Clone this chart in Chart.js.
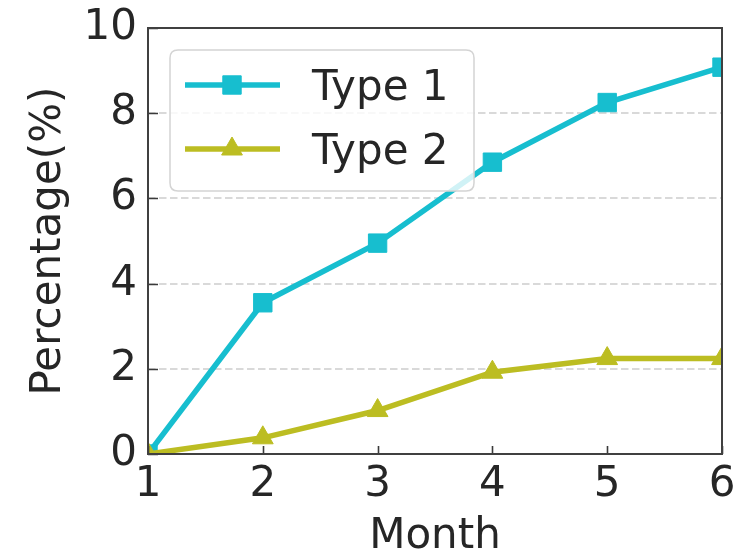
<!DOCTYPE html>
<html>
<head>
<meta charset="utf-8">
<script src="https://cdn.jsdelivr.net/npm/chart.js@4/dist/chart.umd.min.js"></script>
<style>
  html, body { margin: 0; padding: 0; background: #fff; }
  #wrap { width: 754px; height: 552px; }
</style>
</head>
<body>
<div id="wrap"><canvas id="c" width="754" height="552"></canvas></div>
<script>
// Monthly percentages for the two types
const months = [1, 2, 3, 4, 5, 6];
const type1 = [0, 3.55, 4.95, 6.85, 8.25, 9.08];
const type2 = [0, 0.38, 1.02, 1.92, 2.24, 2.24];
const yTicks = [0, 2, 4, 6, 8, 10];
const seriesNames = ['Type 1', 'Type 2'];
const seriesColors = ['#17becf', '#bcbd22'];
const seriesMarkers = ['rect', 'triangle'];
const xTitle = 'Month';
const yTitle = 'Percentage(%)';

const FONT = "'DejaVu Sans', sans-serif";
const TEXT = '#262626';

function toPoints(vals) {
  return months.map((m, i) => ({ x: m, y: vals[i] }));
}

const markerRadius = { rect: 13, triangle: 12 };

// Frame, inward ticks and an in-plot legend box
const overlay = {
  id: 'overlay',
  afterDatasetsDraw(chart) {
    const { ctx, chartArea: a, scales: { x, y } } = chart;
    ctx.save();

    // inward tick marks
    ctx.strokeStyle = '#3a3a3a';
    ctx.lineWidth = 1.6;
    ctx.beginPath();
    months.forEach(m => {
      const px = Math.round(x.getPixelForValue(m)) + 0.5;
      ctx.moveTo(px, a.bottom);
      ctx.lineTo(px, a.bottom - 8);
    });
    yTicks.forEach(v => {
      const py = Math.round(y.getPixelForValue(v)) + 0.5;
      ctx.moveTo(a.left, py);
      ctx.lineTo(a.left + 10, py);
    });
    ctx.stroke();

    // axes frame
    ctx.strokeStyle = '#404040';
    ctx.lineWidth = 2;
    ctx.strokeRect(a.left, a.top, a.right - a.left, a.bottom - a.top);

    // legend
    const bx = a.left + 22, by = a.top + 22, bw = 304, bh = 141, r = 8;
    ctx.beginPath();
    ctx.moveTo(bx + r, by);
    ctx.lineTo(bx + bw - r, by);
    ctx.quadraticCurveTo(bx + bw, by, bx + bw, by + r);
    ctx.lineTo(bx + bw, by + bh - r);
    ctx.quadraticCurveTo(bx + bw, by + bh, bx + bw - r, by + bh);
    ctx.lineTo(bx + r, by + bh);
    ctx.quadraticCurveTo(bx, by + bh, bx, by + bh - r);
    ctx.lineTo(bx, by + r);
    ctx.quadraticCurveTo(bx, by, bx + r, by);
    ctx.closePath();
    ctx.fillStyle = 'rgba(255,255,255,0.8)';
    ctx.fill();
    ctx.strokeStyle = '#d4d4d4';
    ctx.lineWidth = 1.5;
    ctx.stroke();

    const rows = [by + 35, by + 99];
    seriesNames.forEach((name, i) => {
      const cy = rows[i];
      ctx.strokeStyle = seriesColors[i];
      ctx.lineWidth = 5.5;
      ctx.beginPath();
      ctx.moveTo(bx + 15, cy);
      ctx.lineTo(bx + 110, cy);
      ctx.stroke();
      ctx.fillStyle = seriesColors[i];
      ctx.lineWidth = 1;
      Chart.helpers.drawPoint(ctx, {
        pointStyle: seriesMarkers[i],
        radius: markerRadius[seriesMarkers[i]],
        borderWidth: 1,
        rotation: 0
      }, bx + 62, cy);
      ctx.fillStyle = TEXT;
      ctx.font = '42px ' + FONT;
      ctx.textAlign = 'left';
      ctx.textBaseline = 'alphabetic';
      ctx.fillText(name, bx + 142, cy + 15);
    });

    ctx.restore();
  }
};

new Chart(document.getElementById('c'), {
  type: 'line',
  data: {
    datasets: [
      {
        label: seriesNames[0],
        data: toPoints(type1),
        borderColor: seriesColors[0],
        backgroundColor: seriesColors[0],
        borderWidth: 5.5,
        pointStyle: seriesMarkers[0],
        pointRadius: markerRadius.rect,
        pointBorderWidth: 1,
        order: 1,
        tension: 0
      },
      {
        label: seriesNames[1],
        data: toPoints(type2),
        borderColor: seriesColors[1],
        backgroundColor: seriesColors[1],
        borderWidth: 5.5,
        pointStyle: seriesMarkers[1],
        pointRadius: markerRadius.triangle,
        pointBorderWidth: 1,
        order: 0,
        tension: 0
      }
    ]
  },
  options: {
    responsive: false,
    animation: false,
    events: [],
    layout: { padding: { left: 0, top: 28, right: 32, bottom: 0 } },
    plugins: {
      legend: { display: false },
      tooltip: { enabled: false }
    },
    scales: {
      x: {
        type: 'linear',
        min: 1,
        max: 6,
        afterFit(scale) {
          scale.height = 98;
          scale.paddingLeft = 0;
          scale.paddingRight = 0;
        },
        grid: { display: false, drawTicks: false },
        border: { display: false },
        ticks: {
          stepSize: 1,
          padding: 6,
          color: TEXT,
          font: { family: FONT, size: 42 }
        },
        title: {
          display: true,
          text: xTitle,
          color: TEXT,
          font: { family: FONT, size: 42, lineHeight: 1 },
          padding: { top: 0, bottom: -6 }
        }
      },
      y: {
        min: 0,
        max: 10,
        afterFit(scale) {
          scale.width = 148;
          scale.paddingTop = 0;
          scale.paddingBottom = 0;
        },
        afterBuildTicks(scale) { scale.ticks = yTicks.map(v => ({ value: v })); },
        grid: {
          drawTicks: false,
          lineWidth: 2,
          color: c => (c.tick && (c.tick.value === 0 || c.tick.value === 10)) ? 'rgba(0,0,0,0)' : '#d9d9d9'
        },
        border: { display: false, dash: [7.5, 3.5] },
        ticks: {
          padding: 11,
          color: TEXT,
          font: { family: FONT, size: 42 }
        },
        title: {
          display: true,
          text: yTitle,
          color: TEXT,
          font: { family: FONT, size: 42 },
          padding: { top: 24, bottom: 0 }
        }
      }
    }
  },
  plugins: [overlay]
});
</script>
</body>
</html>
